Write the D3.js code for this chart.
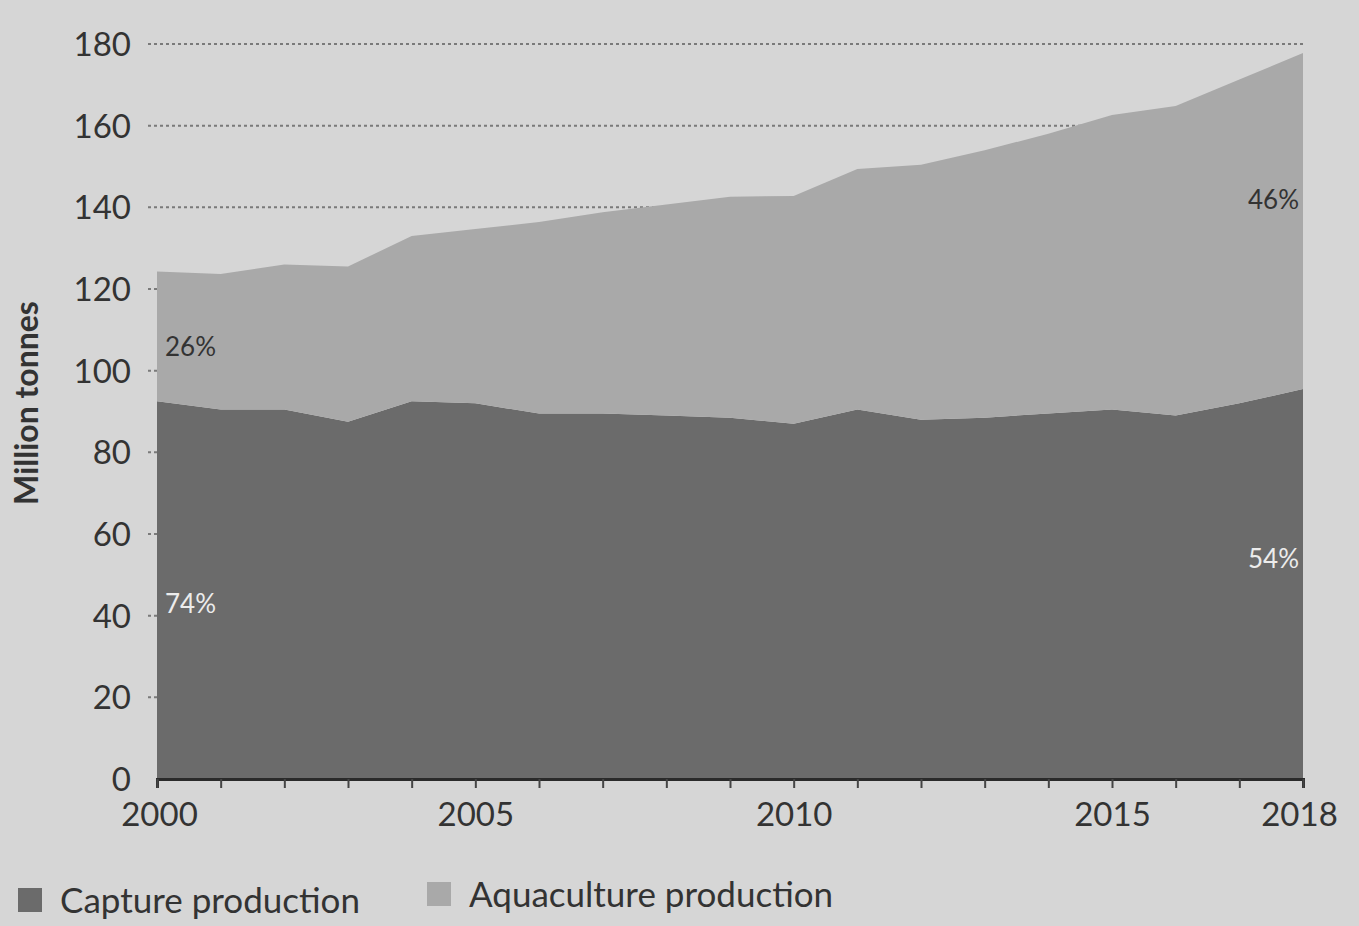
<!DOCTYPE html>
<html>
<head>
<meta charset="utf-8">
<script src="https://cdn.jsdelivr.net/npm/d3@7"></script>
<style>
  html, body { margin: 0; padding: 0; background: #d6d6d6; }
  svg { display: block; }
  text { font-family: Lato, "Open Sans", sans-serif; fill: #333; }
</style>
</head>
<body>
<svg id="chart" width="1359" height="926"></svg>
<script>
const years = [2000,2001,2002,2003,2004,2005,2006,2007,2008,2009,2010,2011,2012,2013,2014,2015,2016,2017,2018];
const capture = [92.5,90.5,90.5,87.5,92.5,92,89.5,89.5,89,88.5,87,90.5,88,88.5,89.5,90.5,89,92,95.5];
const aquaculture = [31.8,33.2,35.5,38,40.5,42.7,46.9,49.3,51.7,54.1,55.8,58.9,62.4,65.5,68.5,72.1,75.8,79.3,82.3];
const yTicks = [0,20,40,60,80,100,120,140,160,180];
const xTicks = [2000,2005,2010,2015,2018];
const seriesNames = ["Capture production","Aquaculture production"];
const seriesColors = ["#6b6b6b","#a9a9a9"];
const shareLabels = [
  {series:0, year:2000, text:"74%", value:43},
  {series:1, year:2000, text:"26%", value:106},
  {series:1, year:2018, text:"46%", value:142},
  {series:0, year:2018, text:"54%", value:54}
];

const svg = d3.select("#chart");
const x = d3.scaleLinear().domain([2000, 2018]).range([157, 1303]);
const y = d3.scaleLinear().domain([0, 180]).range([779, 44]);

const data = years.map((yr, i) => ({year: yr, capture: capture[i], aquaculture: aquaculture[i]}));
const stack = d3.stack().keys(["capture","aquaculture"]);
const layers = stack(data);

// gridlines
svg.append("g").selectAll("line").data(yTicks.filter(d => d > 0)).join("line")
  .attr("x1", 148).attr("x2", x(2018))
  .attr("y1", d => y(d)).attr("y2", d => y(d))
  .attr("stroke", "#7a7a7a").attr("stroke-width", 2)
  .attr("stroke-dasharray", "3,3");

// areas
const area = d3.area()
  .x(d => x(d.data.year))
  .y0(d => y(d[0]))
  .y1(d => y(d[1]));
svg.append("g").selectAll("path").data(layers).join("path")
  .attr("d", area)
  .attr("fill", (d, i) => seriesColors[i]);

// x axis
const xAxis = d3.axisBottom(x).tickValues(years).tickSize(9).tickFormat(d => xTicks.includes(d) ? d : "");
const gx = svg.append("g").attr("transform", `translate(0,${y(0)})`).call(xAxis);
gx.select(".domain").attr("stroke", "#2a2a2a").attr("stroke-width", 3);
gx.selectAll(".tick line").attr("stroke", "#444").attr("stroke-width", 2);
gx.selectAll(".tick text").attr("font-size", 33).attr("dy", "1.05em")
  .attr("font-family", "Lato, sans-serif").attr("fill", "#333");
gx.selectAll(".tick").filter(d => d === 2000).select("text").attr("dx", 2);
gx.selectAll(".tick").filter(d => d === 2018).select("text").attr("dx", -4);

// y axis labels
svg.append("g").selectAll("text").data(yTicks).join("text")
  .attr("x", 131).attr("y", d => y(d)).attr("dy", "0.36em")
  .attr("text-anchor", "end").attr("font-size", 33)
  .text(d => d);

// y title
svg.append("text")
  .attr("transform", `translate(38,403) rotate(-90)`)
  .attr("text-anchor", "middle").attr("font-size", 32).attr("font-weight", 700)
  .attr("fill", "#333")
  .text("Million tonnes");

// share labels
svg.append("g").selectAll("text").data(shareLabels).join("text")
  .attr("x", d => d.year === 2000 ? x(d.year) + 8 : x(d.year) - 4)
  .attr("y", d => y(d.value)).attr("dy", "0.36em")
  .attr("text-anchor", d => d.year === 2000 ? "start" : "end")
  .attr("font-size", 26)
  .style("fill", d => d.series === 0 ? "#ececec" : "#333")
  .text(d => d.text);

// legend
const legendX = [18, 427];
const lg = svg.append("g").selectAll("g").data(seriesNames).join("g")
  .attr("transform", (d, i) => `translate(${legendX[i]},${i === 0 ? 888 : 882})`);
lg.append("rect").attr("width", 24).attr("height", 24).attr("fill", (d, i) => seriesColors[i]);
lg.append("text").attr("x", 42).attr("y", 12).attr("dy", "0.36em")
  .attr("font-size", 35).text(d => d);
</script>
</body>
</html>
